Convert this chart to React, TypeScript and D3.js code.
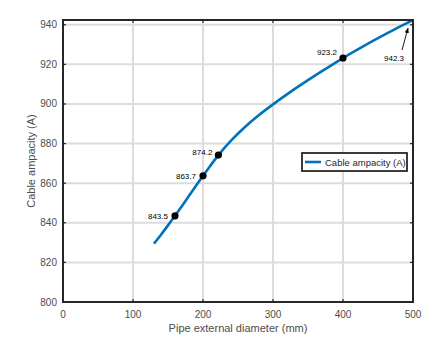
import React from "react";
import * as d3 from "d3";

const diam = [130, 140, 150, 160, 170, 180, 190, 200, 210, 222, 240, 260, 280, 300, 325, 350, 375, 400, 425, 450, 475, 500];
const amp = [829.5, 834.0, 838.7, 843.5, 848.5, 853.6, 858.7, 863.7, 868.6, 874.2, 881.5, 888.4, 894.4, 899.8, 906.1, 912.0, 917.7, 923.2, 928.3, 933.2, 937.9, 942.3];

const markX = [160, 200, 222, 400];
const markY = [843.5, 863.7, 874.2, 923.2];
const markLabels = ["843.5", "863.7", "874.2", "923.2"];
const arrowLabel = "942.3";

const xTicks = [0, 100, 200, 300, 400, 500];
const yTicks = [800, 820, 840, 860, 880, 900, 920, 940];

export default function App() {
  const W = 443, H = 345;
  const L = 63, R = 413, T = 20, B = 302;
  const x = d3.scaleLinear().domain([0, 500]).range([L, R]);
  const y = d3.scaleLinear().domain([800, 942.4]).range([B, T]);
  const line = d3.line<number>().x((_, i) => x(diam[i])).y((d) => y(d)).curve(d3.curveCatmullRom.alpha(0.5));
  const axisCol = "#262626";
  const tickCol = "#4d4d4d";
  const font = "Liberation Sans, Arial, sans-serif";

  const offsets = [
    { dx: -7, dy: 0 },
    { dx: -7, dy: 0 },
    { dx: -6, dy: -3 },
    { dx: -6, dy: -6 },
  ];

  return (
    <svg width={W} height={H} style={{ position: "absolute", left: 0, top: 0 }} fontFamily={font}>
      <rect width={W} height={H} fill="#fff" />
      {xTicks.map((t) => (
        <line key={"gx" + t} x1={x(t)} x2={x(t)} y1={T} y2={B} stroke="#dcdcdc" strokeWidth={2} />
      ))}
      {yTicks.map((t) => (
        <line key={"gy" + t} x1={L} x2={R} y1={y(t)} y2={y(t)} stroke="#dcdcdc" strokeWidth={2} />
      ))}
      {xTicks.map((t) => (
        <g key={"tx" + t}>
          <line x1={x(t)} x2={x(t)} y1={B} y2={B - 3} stroke={axisCol} strokeWidth={1.2} />
          <line x1={x(t)} x2={x(t)} y1={T} y2={T + 3} stroke={axisCol} strokeWidth={1.2} />
          <text x={x(t)} y={318} fontSize={10} fill={tickCol} textAnchor="middle">{t}</text>
        </g>
      ))}
      {yTicks.map((t) => (
        <g key={"ty" + t}>
          <line x1={L} x2={L + 3} y1={y(t)} y2={y(t)} stroke={axisCol} strokeWidth={1.2} />
          <line x1={R} x2={R - 3} y1={y(t)} y2={y(t)} stroke={axisCol} strokeWidth={1.2} />
          <text x={57} y={y(t) + 3.5} fontSize={10} fill={tickCol} textAnchor="end">{t}</text>
        </g>
      ))}
      <path d={line(amp) || ""} fill="none" stroke="#0072BD" strokeWidth={2.6} />
      {markX.map((mx, i) => (
        <g key={"m" + i}>
          <circle cx={x(mx)} cy={y(markY[i])} r={3.6} fill="#000" />
          <text x={x(mx) + offsets[i].dx} y={y(markY[i]) + offsets[i].dy + 3} fontSize={8} fill="#000" textAnchor="end">{markLabels[i]}</text>
        </g>
      ))}
      <defs>
        <marker id="ah" viewBox="0 0 10 10" refX="9" refY="5" markerWidth="6" markerHeight="6" orient="auto">
          <path d="M0,1 L10,5 L0,9 z" fill="#000" />
        </marker>
      </defs>
      <line x1={402} y1={50} x2={x(500) - 5} y2={y(942.3) + 8} stroke="#000" strokeWidth={0.9} markerEnd="url(#ah)" />
      <text x={394} y={61} fontSize={8} fill="#000" textAnchor="middle">{arrowLabel}</text>
      <rect x={L} y={T} width={R - L} height={B - T} fill="none" stroke={axisCol} strokeWidth={2} />
      <g>
        <rect x={302} y={153} width={105} height={18} fill="#fff" stroke={axisCol} strokeWidth={1.8} />
        <line x1={305} x2={321} y1={162} y2={162} stroke="#0072BD" strokeWidth={2.6} />
        <text x={325} y={165.5} fontSize={9.5} fill="#262626">Cable ampacity (A)</text>
      </g>
      <text x={238} y={332} fontSize={11} fill={tickCol} textAnchor="middle">Pipe external diameter (mm)</text>
      <text transform={`translate(35,${(T + B) / 2}) rotate(-90)`} fontSize={11} fill={tickCol} textAnchor="middle">Cable ampacity (A)</text>
    </svg>
  );
}
